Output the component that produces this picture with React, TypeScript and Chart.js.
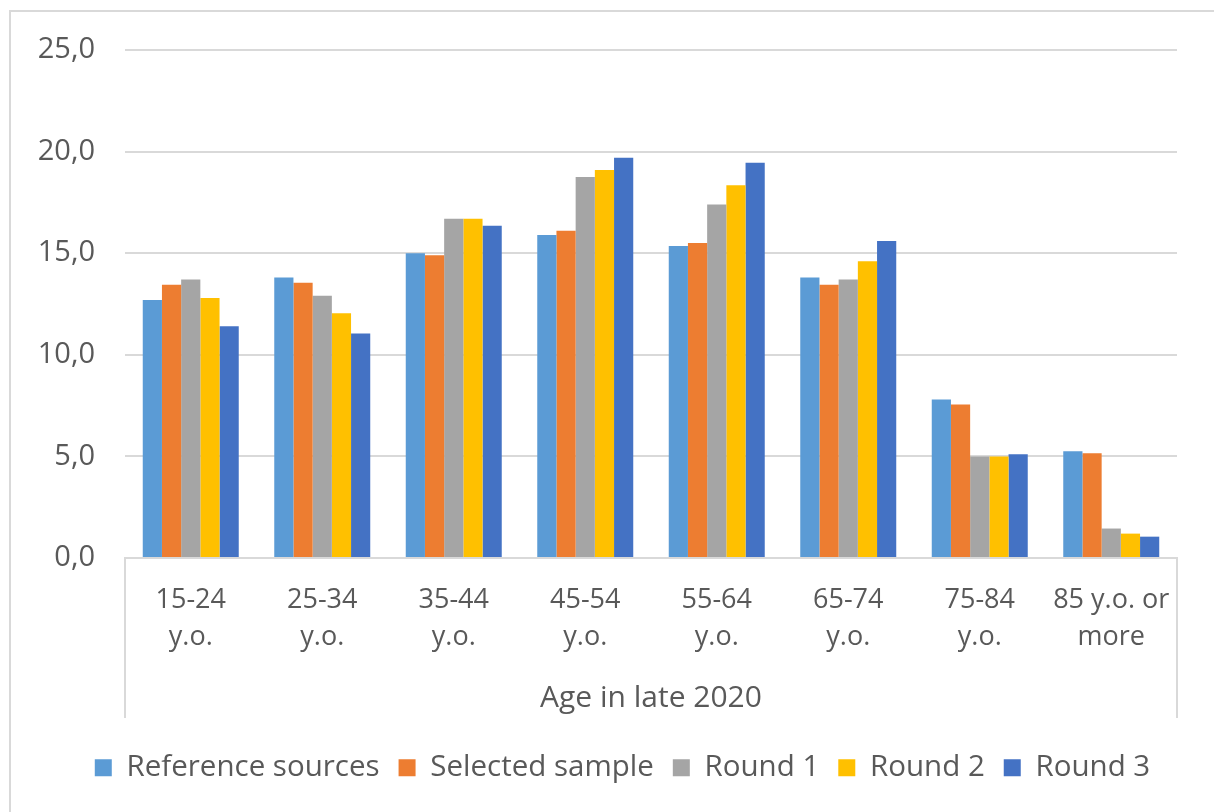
import React, { useEffect, useRef } from "react";
import { Chart, registerables } from "chart.js";

Chart.register(...registerables);

const categories: string[][] = [
  ["15-24", "y.o."],
  ["25-34", "y.o."],
  ["35-44", "y.o."],
  ["45-54", "y.o."],
  ["55-64", "y.o."],
  ["65-74", "y.o."],
  ["75-84", "y.o."],
  ["85 y.o. or", "more"],
];

const seriesNames = ["Reference sources", "Selected sample", "Round 1", "Round 2", "Round 3"];

const referenceSources = [12.7, 13.8, 15.0, 15.9, 15.35, 13.8, 7.8, 5.25];
const selectedSample = [13.45, 13.55, 14.9, 16.1, 15.5, 13.45, 7.55, 5.15];
const round1 = [13.7, 12.9, 16.7, 18.75, 17.4, 13.7, 5.0, 1.45];
const round2 = [12.8, 12.05, 16.7, 19.1, 18.35, 14.6, 5.0, 1.2];
const round3 = [11.4, 11.05, 16.35, 19.7, 19.45, 15.6, 5.1, 1.05];

const seriesColors = ["#5B9BD5", "#ED7D31", "#A5A5A5", "#FFC000", "#4472C4"];

const yTickValues = [0, 5, 10, 15, 20, 25];
const axisTitle = "Age in late 2020";

const FONT = "'Open Sans', 'Noto Sans', sans-serif";
const TEXT = "#595959";
const LINE = "#d9d9d9";

const framePlugin = {
  id: "frame",
  afterLayout(chart: any) {
    const lg = chart.legend;
    if (lg) {
      lg.left += 34;
      lg.right += 34;
    }
  },
  beforeDraw(chart: any) {
    const { ctx, width, height } = chart;
    ctx.save();
    ctx.fillStyle = "#ffffff";
    ctx.fillRect(0, 0, width, height);
    ctx.strokeStyle = LINE;
    ctx.lineWidth = 2;
    ctx.beginPath();
    ctx.moveTo(10, height);
    ctx.lineTo(10, 11);
    ctx.lineTo(width, 11);
    ctx.stroke();
    ctx.restore();
  },
  afterDraw(chart: any) {
    const { ctx, chartArea } = chart;
    ctx.save();
    ctx.strokeStyle = LINE;
    ctx.lineWidth = 2;
    ctx.beginPath();
    ctx.moveTo(chartArea.left, chartArea.bottom);
    ctx.lineTo(chartArea.left, chartArea.bottom + 160);
    ctx.moveTo(chartArea.right, chartArea.bottom);
    ctx.lineTo(chartArea.right, chartArea.bottom + 160);
    ctx.stroke();
    ctx.restore();
  },
};

export default function App() {
  const ref = useRef<HTMLCanvasElement>(null);

  useEffect(() => {
    if (!ref.current) return;
    const values = [referenceSources, selectedSample, round1, round2, round3];
    const chart = new Chart(ref.current, {
      type: "bar",
      data: {
        labels: categories,
        datasets: seriesNames.map((name, i) => ({
          label: name,
          data: values[i],
          backgroundColor: seriesColors[i],
          borderWidth: 0,
          categoryPercentage: 0.73,
          barPercentage: 1.0,
        })),
      },
      options: {
        responsive: false,
        animation: false,
        layout: { padding: { top: 50, right: 37, bottom: 19.5, left: 0 } },
        plugins: {
          tooltip: { enabled: false },
          legend: {
            position: "bottom",
            labels: {
              boxWidth: 17,
              boxHeight: 17,
              padding: 19,
              color: TEXT,
              font: { family: FONT, size: 29.5 },
            },
          },
        },
        scales: {
          x: {
            grid: { display: false, drawTicks: false },
            border: { display: true, color: LINE, width: 2 },
            ticks: {
              color: TEXT,
              padding: 23,
              maxRotation: 0,
              autoSkip: false,
              font: { family: FONT, size: 27, lineHeight: 1.4 },
            },
            title: {
              display: true,
              text: axisTitle,
              color: TEXT,
              font: { family: FONT, size: 30, lineHeight: 1.2 },
              padding: { top: 0, bottom: 18 },
            },
            afterFit(scale: any) {
              scale.height = 176;
            },
          },
          y: {
            min: 0,
            max: 25,
            afterBuildTicks(scale: any) {
              scale.ticks = yTickValues.map((v) => ({ value: v }));
            },
            grid: { color: LINE, lineWidth: 2, drawTicks: false },
            border: { display: false },
            ticks: {
              color: TEXT,
              padding: 30,
              font: { family: FONT, size: 29 },
              callback: (v: any) => Number(v).toFixed(1).replace(".", ","),
            },
            afterFit(scale: any) {
              scale.width = 125;
            },
          },
        },
      },
      plugins: [framePlugin],
    });
    return () => chart.destroy();
  }, []);

  return (
    <div style={{ position: "absolute", left: 0, top: 0, width: 1214, height: 812, background: "#fff" }}>
      <canvas ref={ref} width={1214} height={812} style={{ display: "block" }} />
    </div>
  );
}
